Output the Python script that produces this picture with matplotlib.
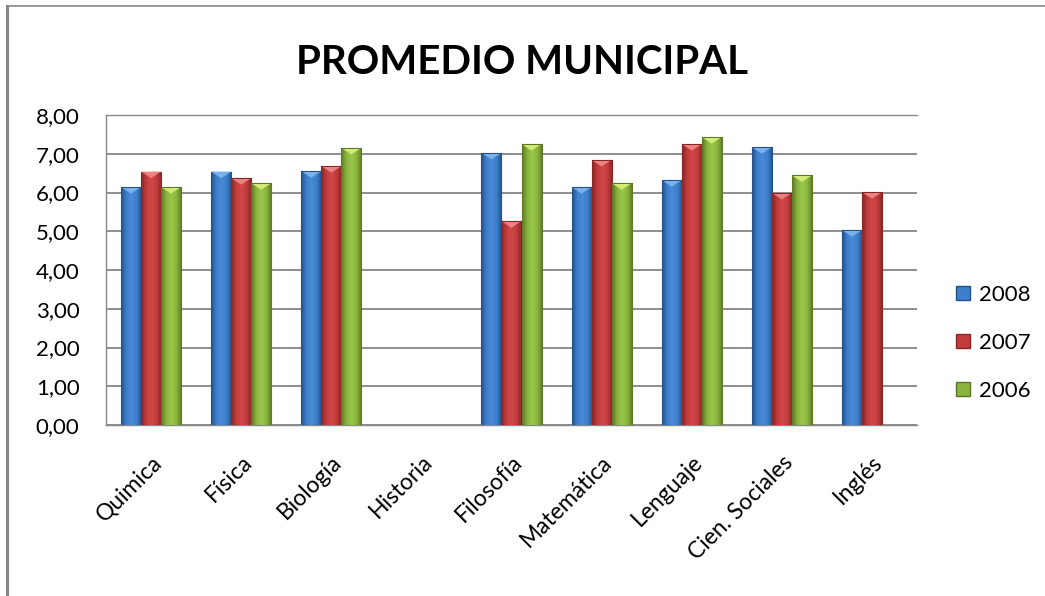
import numpy as np
import matplotlib
matplotlib.use("Agg")
import matplotlib.pyplot as plt
from matplotlib.lines import Line2D
from matplotlib.patches import Polygon
from matplotlib.colors import LinearSegmentedColormap

categories = ["Quimica", "Física", "Biología", "Historia", "Filosofía",
              "Matemática", "Lenguaje", "Cien. Sociales", "Inglés"]
series_names = ["2008", "2007", "2006"]
v2008 = [6.14, 6.54, 6.55, np.nan, 7.02, 6.14, 6.32, 7.17, 5.03]
v2007 = [6.54, 6.37, 6.68, np.nan, 5.26, 6.84, 7.25, 5.99, 6.01]
v2006 = [6.14, 6.24, 7.15, np.nan, 7.25, 6.24, 7.43, 6.44, np.nan]
yticks = [0, 1, 2, 3, 4, 5, 6, 7, 8]
ytick_labels = ["0,00", "1,00", "2,00", "3,00", "4,00", "5,00", "6,00", "7,00", "8,00"]

# (dark edge, mid, light, top-bevel)
palettes = [
    ("#234f86", "#3d7fcc", "#4a8ad6", "#7db8f0"),
    ("#862425", "#c23c3c", "#d24848", "#f08a8a"),
    ("#5a7524", "#8ab43e", "#9ac84a", "#d8f07a"),
]

plt.rcParams['font.family'] = ['Lato', 'DejaVu Sans']

fig = plt.figure(figsize=(10.45, 5.96), dpi=100)
ax = fig.add_axes([106/1045, 1-425/596, (917-106)/1045, (425-115)/596])

x = np.arange(len(categories))
bw = 1/4.5
series = [v2008, v2007, v2006]

ax.set_xlim(-0.5, len(categories)-0.5)
ax.set_ylim(0, 8)

for i, (vals, pal) in enumerate(zip(series, palettes)):
    dark, mid, light, top = pal
    cmap = LinearSegmentedColormap.from_list("g", [dark, mid, light, mid, dark])
    grad = np.linspace(0, 1, 64).reshape(1, -1)
    bars = ax.bar(x + (i-1)*bw, np.nan_to_num(vals), width=bw, color=mid,
                  edgecolor=dark, linewidth=0.8, zorder=3)
    for b, v in zip(bars, vals):
        if np.isnan(v):
            b.set_visible(False)
            continue
        x0, w, h = b.get_x(), b.get_width(), b.get_height()
        im = ax.imshow(grad, extent=[x0, x0+w, 0, h], aspect='auto', cmap=cmap,
                       zorder=3.5, interpolation='bicubic')
        im.set_clip_path(b)
        dy = 0.12
        tri = Polygon([[x0, h], [x0+w, h], [x0+w*0.5, h-dy*1.4]], closed=True,
                      facecolor=top, edgecolor='none', alpha=0.9, zorder=4)
        ax.add_patch(tri)
        ax.add_patch(Polygon([[x0, h], [x0+w, h], [x0+w, h-0.02], [x0, h-0.02]],
                             closed=True, facecolor=dark, edgecolor='none', zorder=4.5))

ax.set_xlim(-0.5, len(categories)-0.5)
ax.set_ylim(0, 8)

ax.set_yticks(yticks)
ax.set_yticklabels(ytick_labels, fontsize=16)
ax.yaxis.grid(True, color="#868686", linewidth=1.3)
ax.set_axisbelow(True)
ax.tick_params(axis='both', length=0)
ax.tick_params(axis='y', pad=19)
ax.set_xticks(x)
ax.set_xticklabels(categories, fontsize=16.5, rotation=45, ha='right',
                   rotation_mode='anchor')
ax.tick_params(axis='x', pad=19)
ax.spines['right'].set_visible(False)
for s in ['left', 'bottom', 'top']:
    ax.spines[s].set_color("#868686")
    ax.spines[s].set_linewidth(1.0)

fig.text(522/1045, 1-62/596, "PROMEDIO MUNICIPAL", fontsize=29, fontweight='bold',
         ha='center', va='center')

handles = [Line2D([0], [0], marker='s', linestyle='none', markersize=10,
                  markerfacecolor=p[1], markeredgecolor=p[0]) for p in palettes]
fig.legend(handles, series_names, loc='center left', bbox_to_anchor=(952/1045, 1-343/596),
           frameon=False, fontsize=16, handletextpad=0.2, labelspacing=1.25,
           handlelength=1.0, borderaxespad=0, borderpad=0)

# outer frame (left and top)
fig.add_artist(Line2D([7/1045, 7/1045], [0, 1-6/596], color="#868686", linewidth=2.2,
                      transform=fig.transFigure))
fig.add_artist(Line2D([7/1045, 1], [1-6/596, 1-6/596], color="#868686", linewidth=1.2,
                      transform=fig.transFigure))

fig.savefig("out.png", dpi=100)
